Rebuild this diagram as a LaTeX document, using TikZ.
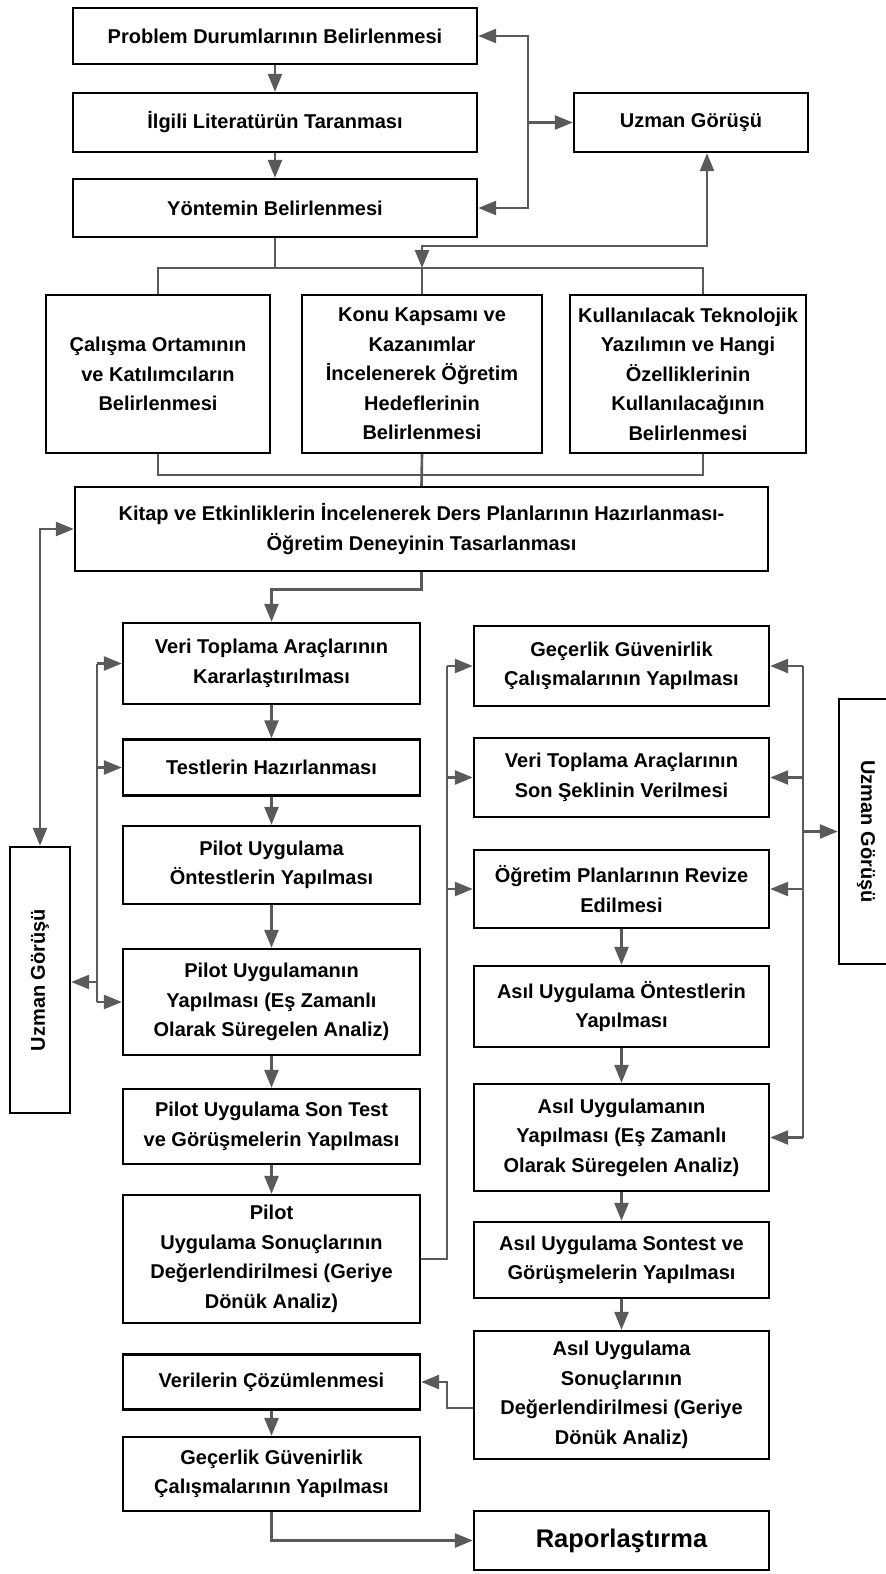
\documentclass[tikz,border=0pt]{standalone}
\usepackage{fontspec}
\setmainfont{Liberation Sans}
\usetikzlibrary{arrows.meta,calc}
\definecolor{lc}{HTML}{5A5A5A}
\begin{document}
\begin{tikzpicture}[x=1pt,y=-1pt,
  bx/.style={draw=black, line width=2.4pt, fill=white, align=center, inner sep=0pt,
    font=\bfseries\fontsize{20}{29.5}\selectfont},
  txt/.style={inner sep=0pt, font=\bfseries\fontsize{20}{24}\selectfont},
  ln/.style={draw=lc, line width=2.6pt},
  br/.style={draw=lc, line width=1.8pt},
  arr/.style={ln, -{Triangle[length=18pt,width=14pt]}},
  bi/.style={ln, {Triangle[length=18pt,width=14pt]}-{Triangle[length=18pt,width=14pt]}}]
\useasboundingbox (0,0) rectangle (886,1574);
\fill[white] (0,0) rectangle (886,1574);

% top
\node[bx, minimum width=404pt, minimum height=56pt] (p1) at (275,36) {Problem Durumlarının Belirlenmesi};
\node[bx, minimum width=404pt, minimum height=59pt] (p2) at (275,122.5) {İlgili Literatürün Taranması};
\node[bx, minimum width=404pt, minimum height=58pt] (p3) at (275,208) {Yöntemin Belirlenmesi};
\node[bx, minimum width=234pt, minimum height=59pt] (u1) at (691,122.5) {Uzman Görüşü};

\node[bx, minimum width=224pt, minimum height=158pt] (b1) at (158,374) {Çalışma Ortamının\\ve Katılımcıların\\Belirlenmesi};
\node[bx, minimum width=240pt, minimum height=158pt] (b2) at (422,374) {Konu Kapsamı ve\\Kazanımlar\\İncelenerek Öğretim\\Hedeflerinin\\Belirlenmesi};
\node[bx, minimum width=236pt, minimum height=158pt] (b3) at (688,374) {Kullanılacak Teknolojik\\Yazılımın ve Hangi\\Özelliklerinin\\Kullanılacağının\\Belirlenmesi};

\node[bx, minimum width=693pt, minimum height=84pt] (k) at (421.5,529) {Kitap ve Etkinliklerin İncelenerek Ders Planlarının Hazırlanması-\\Öğretim Deneyinin Tasarlanması};

% left column
\node[bx, minimum width=297pt, minimum height=81pt] (l1) at (271.5,663.5) {Veri Toplama Araçlarının\\Kararlaştırılması};
\node[bx, minimum width=297pt, minimum height=56pt] (l2) at (271.5,767.5) {Testlerin Hazırlanması};
\node[bx, minimum width=297pt, minimum height=78pt] (l3) at (271.5,865) {Pilot Uygulama\\Öntestlerin Yapılması};
\node[bx, minimum width=297pt, minimum height=106pt] (l4) at (271.5,1002) {Pilot Uygulamanın\\Yapılması (Eş Zamanlı\\Olarak Süregelen Analiz)};
\node[bx, minimum width=297pt, minimum height=75pt] (l5) at (271.5,1126.5) {Pilot Uygulama Son Test\\ve Görüşmelerin Yapılması};
\node[bx, minimum width=297pt, minimum height=128pt] (l6) at (271.5,1259) {Pilot\\Uygulama Sonuçlarının\\Değerlendirilmesi (Geriye\\Dönük Analiz)};
\node[bx, minimum width=297pt, minimum height=55pt] (l7) at (271.5,1382) {Verilerin Çözümlenmesi};
\node[bx, minimum width=297pt, minimum height=74pt] (l8) at (271.5,1474) {Geçerlik Güvenirlik\\Çalışmalarının Yapılması};

% right column
\node[bx, minimum width=295pt, minimum height=80pt] (r1) at (621.5,666) {Geçerlik Güvenirlik\\Çalışmalarının Yapılması};
\node[bx, minimum width=295pt, minimum height=79pt] (r2) at (621.5,777.5) {Veri Toplama Araçlarının\\Son Şeklinin Verilmesi};
\node[bx, minimum width=295pt, minimum height=78pt] (r3) at (621.5,889) {Öğretim Planlarının Revize\\Edilmesi};
\node[bx, minimum width=295pt, minimum height=81pt] (r4) at (621.5,1006.5) {Asıl Uygulama Öntestlerin\\Yapılması};
\node[bx, minimum width=295pt, minimum height=107pt] (r5) at (621.5,1137.5) {Asıl Uygulamanın\\Yapılması (Eş Zamanlı\\Olarak Süregelen Analiz)};
\node[bx, minimum width=295pt, minimum height=76pt] (r6) at (621.5,1260) {Asıl Uygulama Sontest ve\\Görüşmelerin Yapılması};
\node[bx, minimum width=295pt, minimum height=128pt] (r7) at (621.5,1395) {Asıl Uygulama\\Sonuçlarının\\Değerlendirilmesi (Geriye\\Dönük Analiz)};
\node[bx, minimum width=295pt, minimum height=59pt, font=\bfseries\fontsize{25.5}{30}\selectfont] (rap) at (621.5,1540.5) {Raporlaştırma};

% side expert boxes
\node[bx, minimum width=60pt, minimum height=266pt] (lu) at (40,980) {};
\node[txt, rotate=90] (lut) at (lu.center) {Uzman Görüşü};
\node[bx, minimum width=62pt, minimum height=265pt] (ru) at (870,831.5) {};
\node[txt, rotate=-90] (rut) at (866,831.5) {Uzman Görüşü};

% helper coordinates
\coordinate (j1) at (422,268);
\coordinate (j2) at (422,475);
\coordinate (fb) at (528,122.5);
\coordinate (lbx) at (97,0);
\coordinate (mbx) at (447,0);
\coordinate (rbx) at (803,0);

% top chain
\draw[arr] (p1.south) -- (p2.north);
\draw[arr] (p2.south) -- (p3.north);
\draw[bi] (p1.east) -| (fb) |- (p3.east);
\draw[arr] (fb) -- (u1.west);

% branch to three boxes
\draw[br] (p3.south) -- (p3.south |- j1);
\draw[br] (b1.north) |- (j1) -| ([xshift=15pt]b3.north);
\draw[ln] (j1) -- (b2.north);
\draw[bi] ([xshift=16pt]u1.south) |- ([yshift=22pt]j1) -- (j1);

% merge to Kitap
\draw[br] (b1.south) |- (j2) -| ([xshift=15pt]b3.south);
\draw[ln] (b2.south) -- (k.north);

% Kitap to left column
\draw[arr] (k.south) -- ++(0,17) -| (l1.north);
\draw[bi] (k.west) -| (lu.north);

% left column chain
\draw[arr] (l1.south) -- (l2.north);
\draw[arr] (l2.south) -- (l3.north);
\draw[arr] (l3.south) -- (l4.north);
\draw[arr] (l4.south) -- (l5.north);
\draw[arr] (l5.south) -- (l6.north);
\draw[arr] (l7.south) -- (l8.north);

% left expert bar
\draw[ln] (l1.west -| lbx) -- (l4.west -| lbx);
\draw[arr] (l1.west -| lbx) -- (l1.west);
\draw[arr] (l2.west -| lbx) -- (l2.west);
\draw[arr] (l4.west -| lbx) -- (l4.west);
\draw[arr] ([yshift=-2pt]lu.east -| lbx) -- ([yshift=-2pt]lu.east);

% pilot results to right column
\draw[ln] (l6.east) -| (r1.west -| mbx);
\draw[arr] (r1.west -| mbx) -- (r1.west);
\draw[arr] (r2.west -| mbx) -- (r2.west);
\draw[arr] (r3.west -| mbx) -- (r3.west);

% right column chain
\draw[arr] (r3.south) -- (r4.north);
\draw[arr] (r4.south) -- (r5.north);
\draw[arr] (r5.south) -- (r6.north);
\draw[arr] (r6.south) -- (r7.north);

% right expert bar
\draw[ln] (r1.east -| rbx) -- (r5.east -| rbx);
\draw[arr] (r1.east -| rbx) -- (r1.east);
\draw[arr] (r2.east -| rbx) -- (r2.east);
\draw[arr] (r3.east -| rbx) -- (r3.east);
\draw[arr] (r5.east -| rbx) -- (r5.east);
\draw[arr] (ru.west -| rbx) -- (ru.west);

% results to analysis, then report
\draw[arr] ([yshift=-13pt]r7.west) -| (l7.east -| mbx) -- (l7.east);
\draw[arr] (l8.south) |- (rap.west);
\end{tikzpicture}
\end{document}
